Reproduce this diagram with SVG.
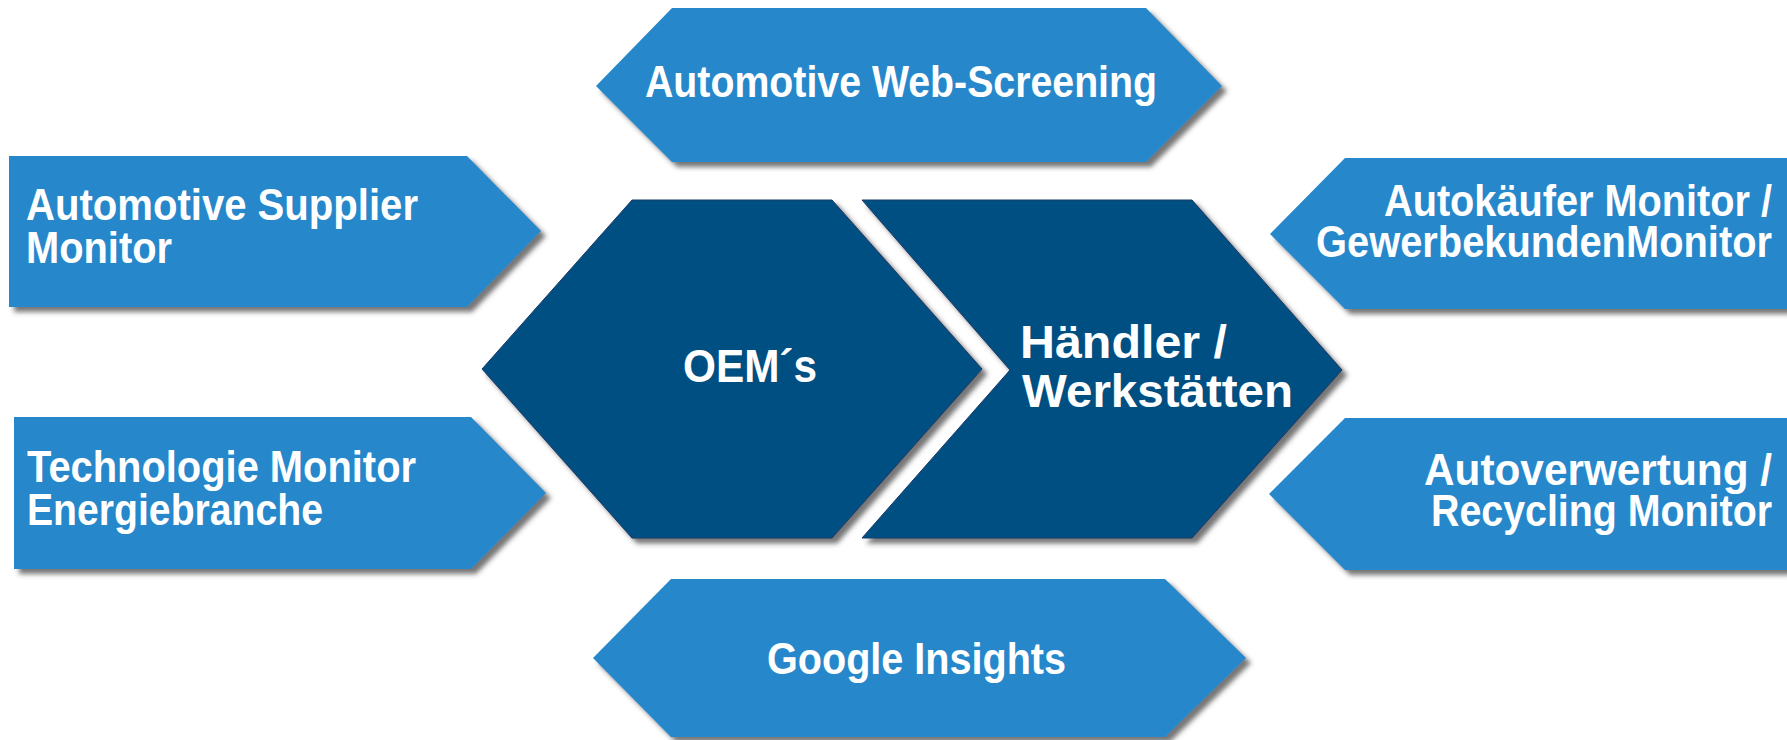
<svg xmlns="http://www.w3.org/2000/svg" width="1787" height="740" viewBox="0 0 1787 740">
  <defs>
    <filter id="shadow" x="-10%" y="-10%" width="125%" height="130%">
      <feDropShadow dx="5" dy="5" stdDeviation="2.5" flood-color="#3a3a3a" flood-opacity="0.7"/>
    </filter>
    <style>
      .light { fill: #2888CB; filter: url(#shadow); }
      .dark { fill: #064F82; stroke: #1d3a66; stroke-width: 1; filter: url(#shadow); }
      .t { font-family: "Liberation Sans", Arial, sans-serif; font-weight: bold; fill: #ffffff; font-size: 44px; }
      .c { font-size: 46px; }
    </style>
  </defs>
  <rect width="1787" height="740" fill="#ffffff"/>

  <g id="web-screening">
    <polygon class="light" points="596,86 672,8 1146,8 1222,86 1146,162 672,162"/>
    <text class="t" x="645" y="97" textLength="512" lengthAdjust="spacingAndGlyphs">Automotive Web-Screening</text>
  </g>

  <g id="supplier-monitor">
    <polygon class="light" points="9,156 467,156 541,231 467,307 9,307"/>
    <text class="t" x="26" y="220" textLength="392" lengthAdjust="spacingAndGlyphs">Automotive Supplier</text>
    <text class="t" x="26" y="263" textLength="146" lengthAdjust="spacingAndGlyphs">Monitor</text>
  </g>

  <g id="technologie-monitor">
    <polygon class="light" points="14,417 471,417 546,493 471,569 14,569"/>
    <text class="t" x="27" y="482" textLength="389" lengthAdjust="spacingAndGlyphs">Technologie Monitor</text>
    <text class="t" x="27" y="525" textLength="296" lengthAdjust="spacingAndGlyphs">Energiebranche</text>
  </g>

  <g id="autokaeufer-monitor">
    <polygon class="light" points="1270,234 1345,158 1787,158 1787,309 1345,309"/>
    <text class="t" x="1772" y="216" text-anchor="end" textLength="388" lengthAdjust="spacingAndGlyphs">Autokäufer Monitor /</text>
    <text class="t" x="1772" y="257" text-anchor="end" textLength="456" lengthAdjust="spacingAndGlyphs">GewerbekundenMonitor</text>
  </g>

  <g id="recycling-monitor">
    <polygon class="light" points="1269,494 1345,418 1787,418 1787,570 1345,570"/>
    <text class="t" x="1772" y="485" text-anchor="end" textLength="348" lengthAdjust="spacingAndGlyphs">Autoverwertung /</text>
    <text class="t" x="1772" y="526" text-anchor="end" textLength="341" lengthAdjust="spacingAndGlyphs">Recycling Monitor</text>
  </g>

  <g id="google-insights">
    <polygon class="light" points="593,658 671,579 1165,579 1246,658 1165,737 671,737"/>
    <text class="t" x="767" y="674" textLength="299" lengthAdjust="spacingAndGlyphs">Google Insights</text>
  </g>

  <g id="oems">
    <polygon class="dark" points="482,369 632,200 832,200 982,369 832,538 632,538"/>
    <text class="t c" x="683" y="382" textLength="134" lengthAdjust="spacingAndGlyphs">OEM´s</text>
  </g>

  <g id="haendler">
    <polygon class="dark" points="862,200 1192,200 1342,370 1192,538 862,538 1010,370"/>
    <text class="t c" x="1020" y="358" textLength="207" lengthAdjust="spacingAndGlyphs">Händler /</text>
    <text class="t c" x="1022" y="407" textLength="271" lengthAdjust="spacingAndGlyphs">Werkstätten</text>
  </g>

  <g id="connectors"></g>
</svg>
